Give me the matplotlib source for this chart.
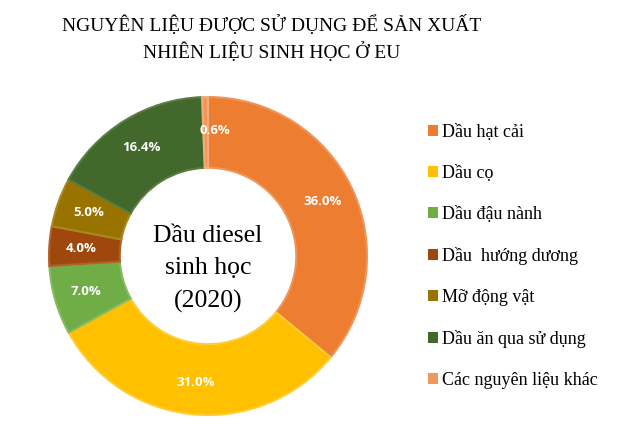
import unicodedata
import numpy as np
import matplotlib.pyplot as plt
from matplotlib.patches import Patch

labels = ["Dầu hạt cải", "Dầu cọ", "Dầu đậu nành", "Dầu  hướng dương",
          "Mỡ động vật", "Dầu ăn qua sử dụng", "Các nguyên liệu khác"]
values = [36.0, 31.0, 7.0, 4.0, 5.0, 16.4, 0.6]
colors = ["#ED7D31", "#FFC000", "#70AD47", "#9E480E", "#997300", "#43682B", "#F1975A"]
edges = ["#F0955A", "#FFCD33", "#86BA63", "#B0602B", "#AA8822", "#577C3F", "#F4AC7C"]

title = "NGUYÊN LIỆU ĐƯỢC SỬ DỤNG ĐỂ SẢN XUẤT\nNHIÊN LIỆU SINH HỌC Ở EU"
center_text = "Dầu diesel\nsinh học\n(2020)"


def nfc(s):
    return unicodedata.normalize("NFC", s)


labels = [nfc(s) for s in labels]
title = nfc(title)
center_text = nfc(center_text)

plt.rcParams["font.family"] = ["Liberation Serif", "DejaVu Serif"]

fig = plt.figure(figsize=(6.4, 4.43), dpi=100)
fig.text(0.424, 0.913, title, ha="center", va="center", fontsize=14,
         linespacing=1.45)

ax = fig.add_axes([0.0766, 0.0632, 0.4969, 0.7178])
wedges, _ = ax.pie(values, colors=colors, startangle=90, counterclock=False,
                   radius=1.0, wedgeprops=dict(width=0.445, linewidth=1.5))
for w, e in zip(wedges, edges):
    w.set_edgecolor(e)

ang = 90.0
for v in values:
    mid = np.deg2rad(ang - v * 3.6 / 2)
    ang -= v * 3.6
    r = 0.80
    x, y = r * np.cos(mid), r * np.sin(mid)
    if v < 1:
        x, y = 0.04, 0.79
    ax.text(x, y, f"{v:.1f}%", ha="center", va="center", color="white",
            fontsize=9.5, fontweight="bold", family="Open Sans")

ax.text(0.0, -0.08, center_text, ha="center", va="center", fontsize=18.5,
        linespacing=1.6)
ax.set_xlim(-1, 1)
ax.set_ylim(-1, 1)
ax.set_aspect("equal")
ax.axis("off")

handles = [Patch(facecolor=c, edgecolor="none") for c in colors]
fig.legend(handles, labels, loc="upper left", bbox_to_anchor=(0.657, 0.736),
           frameon=False, fontsize=13,
           handlelength=0.55, handleheight=0.55, handletextpad=0.25,
           labelspacing=1.33, borderaxespad=0)

fig.savefig("out.png", dpi=100)
